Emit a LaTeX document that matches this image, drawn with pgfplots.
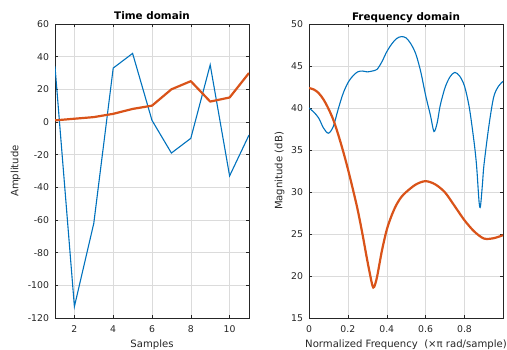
\documentclass[border=0pt]{standalone}
\usepackage{fontspec}
\setmainfont{DejaVu Sans}
\usepackage{pgfplots}
\pgfplotsset{compat=1.18}
\definecolor{mblue}{rgb}{0,0.447,0.741}
\definecolor{morange}{rgb}{0.85,0.325,0.098}
\definecolor{maxis}{rgb}{0.15,0.15,0.15}
\pgfplotsset{every axis title shift=0pt}
\pgfplotsset{mstyle/.style={
  scale only axis, width=194bp, height=294bp,
  axis line style={maxis, line width=0.6bp},
  tick style={maxis, line width=0.5bp},
  major tick length=3bp,
  grid=major, grid style={black!14, line width=0.5bp},
  /pgf/number format/assume math mode=true,
  /pgf/number format/fixed,
  ticklabel style={font=\fontsize{9.3bp}{11bp}\selectfont, text=maxis},
  yticklabel style={xshift=-2.5bp},
  xticklabel style={yshift=-4.5bp},
  label style={font=\fontsize{10.1bp}{12bp}\selectfont, text=maxis},
  title style={font=\bfseries\fontsize{10.4bp}{12bp}\selectfont, text=black, at={(axis description cs:0.5,1)}, anchor=base, yshift=4bp},
  xlabel style={at={(axis description cs:0.5,0)}, anchor=base, yshift=-29bp},
}}
\begin{document}
\begin{tikzpicture}
\useasboundingbox (0,0) rectangle (507bp,350bp);
\begin{axis}[mstyle, at={(55bp,32bp)}, anchor=south west,
  xmin=1, xmax=11, ymin=-120, ymax=60,
  xtick={2,4,6,8,10}, ytick={-120,-100,-80,-60,-40,-20,0,20,40,60},
  title={Time domain}, xlabel={Samples}, ylabel={Amplitude},
  ylabel style={at={(axis description cs:-0.2036,0.5)}, anchor=center}]
\addplot[mblue, line width=1.1bp] coordinates {
(1,34)(2,-113)(3,-62)(4,33)(5,42)(6,1)(7,-19)(8,-10)(9,35)(10,-33)(11,-8)};
\addplot[morange, line width=2.2bp, line join=round] coordinates {
(1,1)(2,2)(3,3)(4,5)(5,8)(6,10)(7,20)(8,25)(9,12.5)(10,15)(11,30)};
\end{axis}
\begin{axis}[mstyle, at={(309bp,32bp)}, anchor=south west,
  xmin=0, xmax=0.998, ymin=15, ymax=50,
  xtick={0,0.2,0.4,0.6,0.8}, ytick={15,20,25,30,35,40,45,50},
  title={Frequency domain}, xlabel={Normalized Frequency\ \ (×π rad/sample)}, ylabel={Magnitude (dB)},
  ylabel style={at={(axis description cs:-0.152,0.5)}, anchor=center}]
\addplot[mblue, line width=1.1bp, smooth] coordinates {
(0,40.0)(0.025,39.5)(0.05,38.8)(0.075,37.6)(0.1,37.0)(0.125,37.8)(0.15,39.85)
(0.175,41.7)(0.2,43.0)(0.225,43.8)(0.25,44.3)(0.275,44.4)(0.3,44.3)(0.325,44.4)
(0.35,44.6)(0.375,45.5)(0.4,46.7)(0.425,47.6)(0.45,48.26)(0.475,48.5)(0.5,48.34)
(0.525,47.6)(0.55,46.4)(0.575,44.3)(0.6,41.5)(0.625,39.1)(0.643,37.2)(0.66,38.3)
(0.675,40.3)(0.7,42.44)(0.725,43.7)(0.75,44.24)(0.775,43.8)(0.8,42.6)(0.825,40.0)
(0.85,35.8)(0.8625,33.0)(0.875,28.8)(0.882,28.3)(0.8925,31.0)(0.9,33.2)(0.925,37.8)
(0.95,41.3)(0.975,42.6)(0.998,43.17)};
\addplot[morange, line width=2.2bp, smooth] coordinates {
(0,42.38)(0.025,42.2)(0.05,41.77)(0.075,41.0)(0.1,39.92)(0.125,38.6)(0.15,36.86)
(0.175,34.9)(0.2,32.75)(0.225,30.4)(0.25,27.92)(0.275,25.0)(0.3,21.83)(0.325,18.98)
(0.335,18.7)(0.35,19.89)(0.375,23.0)(0.4,25.5)(0.425,27.2)(0.45,28.5)(0.475,29.4)
(0.5,30.0)(0.55,30.9)(0.6,31.29)(0.65,30.9)(0.7,29.94)(0.75,28.3)(0.8,26.63)
(0.85,25.3)(0.9,24.46)(0.95,24.5)(0.998,24.86)};
\end{axis}
\end{tikzpicture}
\end{document}
